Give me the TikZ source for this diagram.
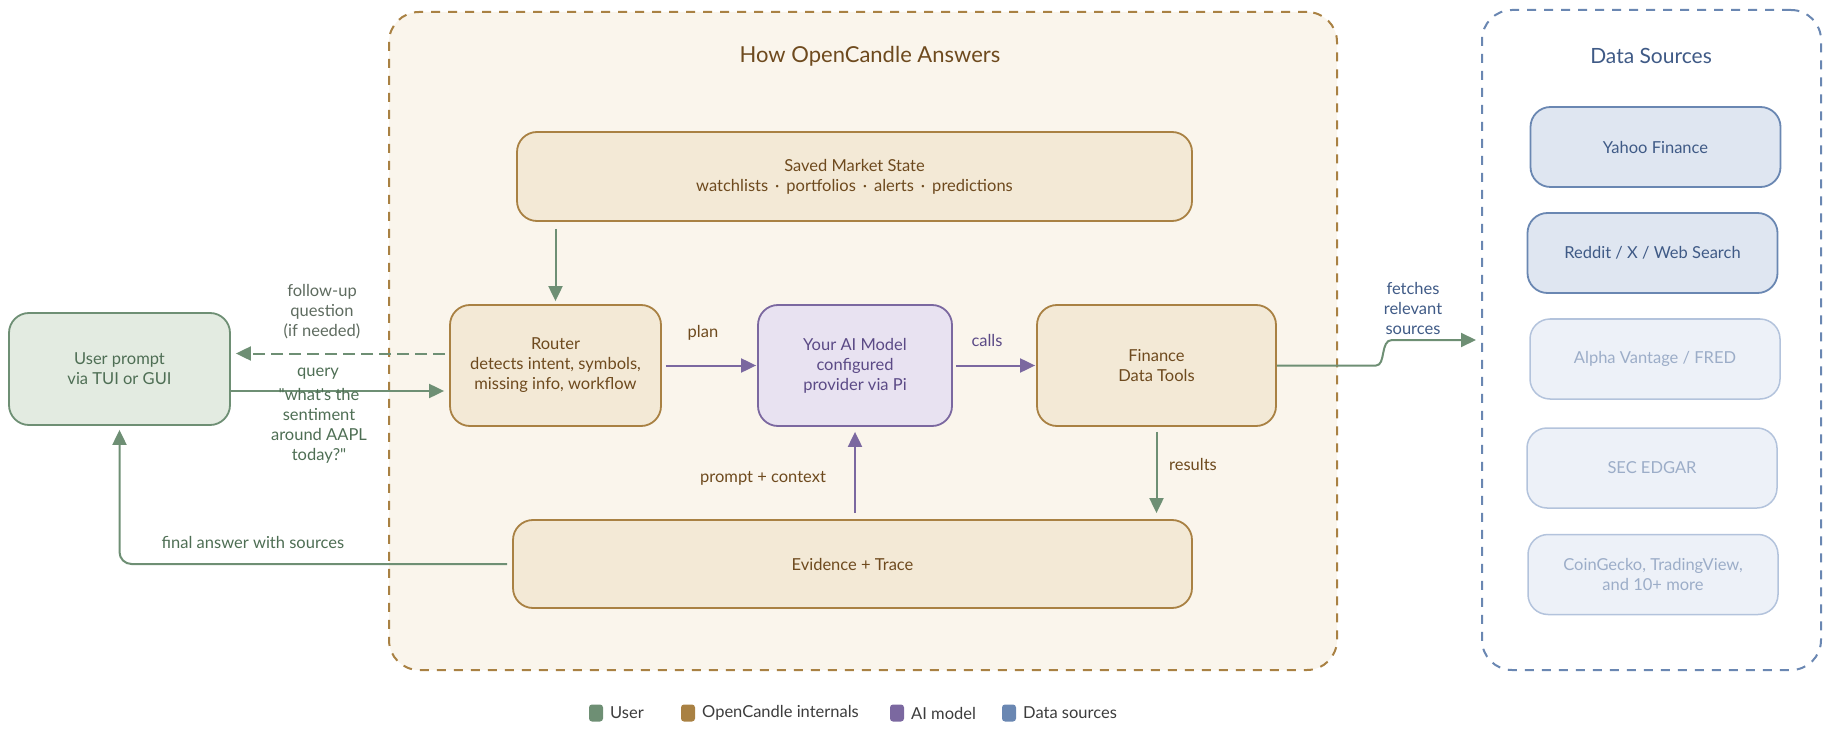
\documentclass[tikz,border=0pt]{standalone}
\usepackage{fontspec}
\setmainfont{Lato}[Ligatures=TeXOff]
\usetikzlibrary{arrows.meta}
\definecolor{gstroke}{HTML}{6E8F74}
\definecolor{gfill}{HTML}{E3EBE1}
\definecolor{gtext}{HTML}{4E6E54}
\definecolor{ostroke}{HTML}{A98143}
\definecolor{ofill}{HTML}{F3E9D6}
\definecolor{cfill}{HTML}{FAF5EC}
\definecolor{otext}{HTML}{6E4A1E}
\definecolor{pstroke}{HTML}{7B68A0}
\definecolor{pfill}{HTML}{E8E2F1}
\definecolor{ptext}{HTML}{5B4A86}
\definecolor{bstroke}{HTML}{6A87B2}
\definecolor{bfill}{HTML}{DFE6F1}
\definecolor{btext}{HTML}{3F5A86}
\definecolor{fstroke}{HTML}{B3C3DC}
\definecolor{ffill}{HTML}{EDF1F8}
\definecolor{ftext}{HTML}{9CADC8}
\definecolor{ltext}{HTML}{3C3C3C}
\definecolor{qtext}{HTML}{5E6B5F}
\begin{document}
\begin{tikzpicture}[x=1pt,y=-1pt,
  txt/.style={font=\fontsize{16.5}{20}\selectfont, align=center, inner sep=0pt},
  box/.style={txt, draw, line width=1.8pt, rounded corners=20pt},
  ubox/.style={box, draw=gstroke, fill=gfill, text=gtext},
  obox/.style={box, draw=ostroke, fill=ofill, text=otext},
  pbox/.style={box, draw=pstroke, fill=pfill, text=ptext},
  bbox/.style={box, draw=bstroke, fill=bfill, text=btext, minimum width=250pt, minimum height=80pt},
  fbox/.style={box, line width=1.5pt, draw=fstroke, fill=ffill, text=ftext, minimum width=250pt, minimum height=80pt},
  container/.style={draw, line width=2pt, dash pattern=on 9pt off 8pt, rounded corners=30pt, inner sep=0pt},
  garrow/.style={draw=gstroke, line width=2pt, -{Triangle[length=15pt,width=14pt]}, color=gstroke},
  parrow/.style={draw=pstroke, line width=2pt, -{Triangle[length=15pt,width=14pt]}, color=pstroke},
  swatch/.style={rounded corners=3pt, minimum width=14pt, minimum height=17pt, inner sep=0pt},
  legtext/.style={txt, text=ltext, anchor=west}
]
\useasboundingbox (0,0) rectangle (1831,735);

% containers
\node[container, draw=ostroke, fill=cfill, minimum width=948pt, minimum height=658pt] (main) at (863,341) {};
\node[container, draw=bstroke, minimum width=339pt, minimum height=660pt] (ds) at (1651.5,340) {};
\node[txt, font=\fontsize{22}{24}\selectfont, text=otext] (maintitle) at (870,56) {How OpenCandle Answers};
\node[txt, font=\fontsize{21}{24}\selectfont, text=btext] (dstitle) at (1651,56) {Data Sources};

% nodes
\node[ubox, minimum width=221pt, minimum height=112pt] (user) at (119.5,369) {User prompt\\via TUI or GUI};
\node[obox, minimum width=675pt, minimum height=89pt] (saved) at (854.5,176.5) {Saved Market State\\watchlists \,·\, portfolios \,·\, alerts \,·\, predictions};
\node[obox, minimum width=211pt, minimum height=121pt] (router) at (555.5,365.5) {Router\\detects intent, symbols,\\missing info, workflow};
\node[pbox, minimum width=194pt, minimum height=121pt] (ai) at (855,365.5) {Your AI Model\\configured\\provider via Pi};
\node[obox, minimum width=239pt, minimum height=121pt] (fin) at (1156.5,365.5) {Finance\\Data Tools};
\node[obox, minimum width=679pt, minimum height=88pt] (ev) at (852.5,564) {Evidence + Trace};

\node[bbox] (yahoo) at (1655.5,147) {Yahoo Finance};
\node[bbox] (reddit) at (1652.5,253) {Reddit / X / Web Search};
\node[fbox] (alpha) at (1655,359) {Alpha Vantage / FRED};
\node[fbox] (sec) at (1652,468) {SEC EDGAR};
\node[fbox] (coin) at (1653,574.5) {CoinGecko, TradingView,\\and 10+ more};

% connectors
\draw[garrow, shorten <=7pt, shorten >=3pt] (router.north |- saved.south) -- (router.north);
\coordinate (fq) at ([yshift=12pt]router.west);
\draw[garrow, dash pattern=on 12pt off 6pt, shorten <=4pt, shorten >=5pt] (fq) -- (fq -| user.east);
\coordinate (qq) at ([yshift=-22pt]user.east);
\draw[garrow, shorten >=5pt] (qq) -- (qq -| router.west);
\draw[parrow, shorten <=4pt, shorten >=1pt] (router.east) -- (ai.west);
\draw[parrow, shorten <=3pt, shorten >=1pt] (ai.east) -- (fin.west);
\draw[garrow, shorten <=5pt, shorten >=6pt] (fin.south) -- (fin.south |- ev.north);
\draw[parrow, shorten <=6pt, shorten >=5pt] (ai.south |- ev.north) -- (ai.south);
\draw[garrow, rounded corners=12pt, shorten <=5pt, shorten >=4pt] (ev.west) -- (user.south |- ev.west) -- (user.south);
\draw[garrow, shorten >=5pt] (fin.east) -- (1376,365.5) .. controls (1386,365.5) and (1380,340) .. (1392,340) -- (ds.west);

% labels
\node[txt, text=qtext] (lfollow) at (322,312) {follow-up\\question\\(if needed)};
\node[txt, text=gtext] (lquery) at (318,374) {query};
\node[txt, text=gtext] (lwhat) at (319,426) {"what's the\\sentiment\\around AAPL\\today?"};
\node[txt, text=otext] (lplan) at (703,333) {plan};
\node[txt, text=ptext] (lcalls) at (987,340) {calls};
\node[txt, text=otext] (lresults) at (1193,464) {results};
\node[txt, text=otext] (lprompt) at (763,478) {prompt + context};
\node[txt, text=gtext] (lfinal) at (253,542) {final answer with sources};
\node[txt, text=btext] (lfetch) at (1413,308) {fetches\\relevant\\sources};

% legend
\node[swatch, fill=gstroke] (sw1) at (596,713) {};
\node[legtext] (lg1) at (610,713) {User};
\node[swatch, fill=ostroke] (sw2) at (688,713) {};
\node[legtext] (lg2) at (702,713) {OpenCandle internals};
\node[swatch, fill=pstroke] (sw3) at (897,713) {};
\node[legtext] (lg3) at (911,713) {AI model};
\node[swatch, fill=bstroke] (sw4) at (1009,713) {};
\node[legtext] (lg4) at (1023,713) {Data sources};
\end{tikzpicture}
\end{document}
